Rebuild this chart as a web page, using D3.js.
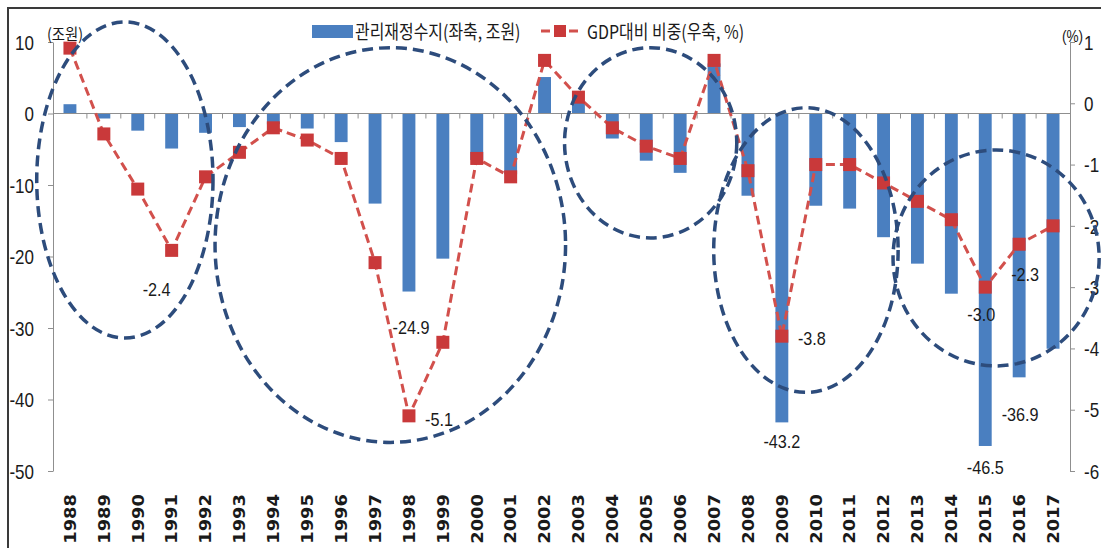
<!DOCTYPE html>
<html>
<head>
<meta charset="utf-8">
<script src="https://cdn.jsdelivr.net/npm/d3@7"></script>
<style>
  body { margin: 0; background: #fff; }
  svg { display: block; }
</style>
</head>
<body>
<script>
// Fiscal balance (trillion KRW, left axis) and its share of GDP (%, right axis)
const years = ["1988","1989","1990","1991","1992","1993","1994","1995","1996","1997",
               "1998","1999","2000","2001","2002","2003","2004","2005","2006","2007",
               "2008","2009","2010","2011","2012","2013","2014","2015","2016","2017"];
const balance = [1.3, -0.7, -2.4, -4.9, -2.7, -1.9, -1.5, -2.1, -4.0, -12.6,
                 -24.9, -20.3, -6.5, -8.5, 5.1, 1.5, -3.5, -6.6, -8.3, 7.0,
                 -11.5, -43.2, -12.9, -13.3, -17.3, -21.0, -25.2, -46.5, -36.9, -32.9];
const gdpRatio = [0.9, -0.5, -1.4, -2.4, -1.2, -0.8, -0.4, -0.6, -0.9, -2.6,
                  -5.1, -3.9, -0.9, -1.2, 0.7, 0.1, -0.4, -0.7, -0.9, 0.7,
                  -1.1, -3.8, -1.0, -1.0, -1.3, -1.6, -1.9, -3.0, -2.3, -2.0];
const leftTicks = [10, 0, -10, -20, -30, -40, -50];
const rightTicks = [1, 0, -1, -2, -3, -4, -5, -6];
const seriesNames = ["관리재정수지(좌축, 조원)", "GDP대비 비중(우축, %)"];
const unitLeft = "(조원)";
const unitRight = "(%)";
const balanceLabelYears = ["1998", "2009", "2015", "2016"];
const ratioLabelYears = ["1991", "1998", "2009", "2015", "2016"];
// Highlighted periods: centre (year, left-axis value) and radii (years, left-axis units)
const highlightYear = [1989.62, 1997.45, 2005.13, 2009.71, 2015.32];
const highlightValue = [-9.3, -18.4, -4.1, -19.1, -20.2];
const highlightRadiusYears = [2.6, 5.17, 2.54, 2.72, 3.04];
const highlightRadiusValue = [22.1, 27.6, 13.3, 19.9, 15.1];

const W = 1101, H = 548;
const plot = { left: 53, right: 1070, top: 42, bottom: 471 };

// plain hyphen-minus for negative numbers
const locale = d3.formatLocale({ decimal: ".", thousands: ",", grouping: [3], currency: ["", ""], minus: "-" });
const fmtInt = locale.format("d");
const fmt = locale.format(".1f");

const svg = d3.select("body").append("svg").attr("width", W).attr("height", H);

const x = d3.scaleBand().domain(years).range([plot.left, plot.right])
  .paddingInner(0.62).paddingOuter(0.31);
const yL = d3.scaleLinear().domain([-50, 10]).range([plot.bottom, plot.top]);
const yR = d3.scaleLinear().domain([-6, 1]).range([plot.bottom, plot.top]);
const cx = d => x(d) + x.bandwidth() / 2;
const yearPos = d3.scaleLinear().domain([1988, 2017]).range([cx("1988"), cx("2017")]);

const BAR = "#4a7fc0", LINE = "#d2504c", MARK = "#c9393a", RING = "#2d4c7c", AXIS = "#8f8f8f";
const NUM_FONT = "'Liberation Sans', Arial, sans-serif";
const KR_FONT = "'Noto Sans CJK KR', 'Noto Sans', sans-serif";

// outer frame
svg.append("path").attr("d", `M8,${H} L8,8 L${W},8`)
  .attr("fill", "none").attr("stroke", "#3a3a3a").attr("stroke-width", 2);

// left axis
const gL = svg.append("g").attr("transform", `translate(${plot.left},0)`)
  .call(d3.axisLeft(yL).tickValues(leftTicks).tickSizeInner(5).tickSizeOuter(0).tickFormat(fmtInt));
gL.select(".domain").attr("stroke", AXIS);
gL.selectAll(".tick line").attr("stroke", AXIS);
gL.selectAll(".tick text").attr("x", null).attr("dy", "0.36em")
  .attr("transform", "translate(-19,0) scale(0.85,1)")
  .attr("font-family", NUM_FONT).attr("font-size", 20).attr("fill", "#1a1a1a");

// right axis
const gR = svg.append("g").attr("transform", `translate(${plot.right},0)`)
  .call(d3.axisRight(yR).tickValues(rightTicks).tickSizeInner(5).tickSizeOuter(0).tickFormat(fmtInt));
gR.select(".domain").attr("stroke", AXIS);
gR.selectAll(".tick line").attr("stroke", AXIS);
gR.selectAll(".tick text").attr("x", null).attr("dy", "0.36em")
  .attr("transform", "translate(14,0) scale(0.85,1)")
  .attr("font-family", NUM_FONT).attr("font-size", 20).attr("fill", "#1a1a1a");

// unit captions
svg.append("text").attr("transform", `translate(47,33) scale(0.9,1)`)
  .attr("dominant-baseline", "central").attr("font-family", KR_FONT)
  .attr("font-size", 16).attr("fill", "#1a1a1a").text(unitLeft);
svg.append("text").attr("transform", `translate(1083,37) scale(0.85,1)`)
  .attr("text-anchor", "end").attr("dominant-baseline", "central")
  .attr("font-family", NUM_FONT).attr("font-size", 16).attr("fill", "#1a1a1a").text(unitRight);

// bars
svg.append("g").selectAll("rect").data(years).join("rect")
  .attr("x", d => x(d))
  .attr("width", x.bandwidth())
  .attr("y", (d, i) => yL(Math.max(0, balance[i])))
  .attr("height", (d, i) => Math.abs(yL(balance[i]) - yL(0)))
  .attr("fill", BAR);

// zero line with category separators
const y0 = yL(0);
svg.append("line").attr("x1", plot.left).attr("x2", plot.right)
  .attr("y1", y0).attr("y2", y0).attr("stroke", AXIS);
svg.append("g").selectAll("line").data(d3.range(1, years.length)).join("line")
  .attr("x1", i => plot.left + i * x.step()).attr("x2", i => plot.left + i * x.step())
  .attr("y1", y0).attr("y2", y0 + 5).attr("stroke", AXIS);

// year labels
const gX = svg.append("g").attr("transform", `translate(0,494)`)
  .call(d3.axisBottom(x).tickSize(0));
gX.select(".domain").remove();
gX.selectAll(".tick text").attr("x", 0).attr("y", 0).attr("dy", "0.36em")
  .attr("text-anchor", "end").attr("transform", "rotate(-90) scale(1.12,1)")
  .attr("font-family", "'DejaVu Sans', Verdana, sans-serif").attr("font-weight", "bold")
  .attr("font-size", 16).attr("fill", "#1a1a1a");

// ratio line and markers
const line = d3.line().x((d, i) => cx(years[i])).y(d => yR(d));
svg.append("path").datum(gdpRatio).attr("d", line)
  .attr("fill", "none").attr("stroke", LINE).attr("stroke-width", 3)
  .attr("stroke-dasharray", "9,5");
const M = 13;
svg.append("g").selectAll("rect").data(gdpRatio).join("rect")
  .attr("x", (d, i) => cx(years[i]) - M / 2).attr("y", d => yR(d) - M / 2)
  .attr("width", M).attr("height", M).attr("fill", MARK);

// value labels
const balanceOffset = { "1998": [2, 37], "2009": [0, 20], "2015": [0, 22], "2016": [1, 38] };
const ratioOffset = { "1991": [-15, 40], "1998": [30, 4], "2009": [30, 3], "2015": [-4, 28], "2016": [6, 31] };
function valueLabel(px, py, txt) {
  svg.append("text").attr("transform", `translate(${px},${py}) scale(0.9,1)`)
    .attr("text-anchor", "middle").attr("dominant-baseline", "central")
    .attr("font-family", NUM_FONT).attr("font-size", 18).attr("fill", "#1a1a1a").text(txt);
}
balanceLabelYears.forEach(yr => {
  const i = years.indexOf(yr), o = balanceOffset[yr];
  valueLabel(cx(yr) + o[0], yL(balance[i]) + o[1], fmt(balance[i]));
});
ratioLabelYears.forEach(yr => {
  const i = years.indexOf(yr), o = ratioOffset[yr];
  valueLabel(cx(yr) + o[0], yR(gdpRatio[i]) + o[1], fmt(gdpRatio[i]));
});

// highlighted periods
const unitY = yL(0) - yL(1);
svg.append("g").selectAll("ellipse").data(highlightYear).join("ellipse")
  .attr("cx", d => yearPos(d))
  .attr("cy", (d, i) => yL(highlightValue[i]))
  .attr("rx", (d, i) => highlightRadiusYears[i] * x.step())
  .attr("ry", (d, i) => highlightRadiusValue[i] * unitY)
  .attr("fill", "none").attr("stroke", RING).attr("stroke-width", 3.5)
  .attr("stroke-dasharray", "11,6");

// legend
const lg = svg.append("g");
lg.append("rect").attr("x", 312).attr("y", 25).attr("width", 41).attr("height", 13).attr("fill", BAR);
lg.append("text").attr("transform", "translate(355,31) scale(0.84,1)")
  .attr("dominant-baseline", "central").attr("font-family", KR_FONT)
  .attr("font-size", 19).attr("fill", "#1a1a1a").text(seriesNames[0]);
lg.append("line").attr("x1", 541).attr("x2", 579).attr("y1", 31).attr("y2", 31)
  .attr("stroke", LINE).attr("stroke-width", 3).attr("stroke-dasharray", "9,5");
lg.append("rect").attr("x", 554).attr("y", 25).attr("width", 12).attr("height", 12).attr("fill", MARK);
lg.append("text").attr("transform", "translate(587,31) scale(0.84,1)")
  .attr("dominant-baseline", "central").attr("font-family", KR_FONT)
  .attr("font-size", 19).attr("fill", "#1a1a1a").text(seriesNames[1]);
</script>
</body>
</html>
